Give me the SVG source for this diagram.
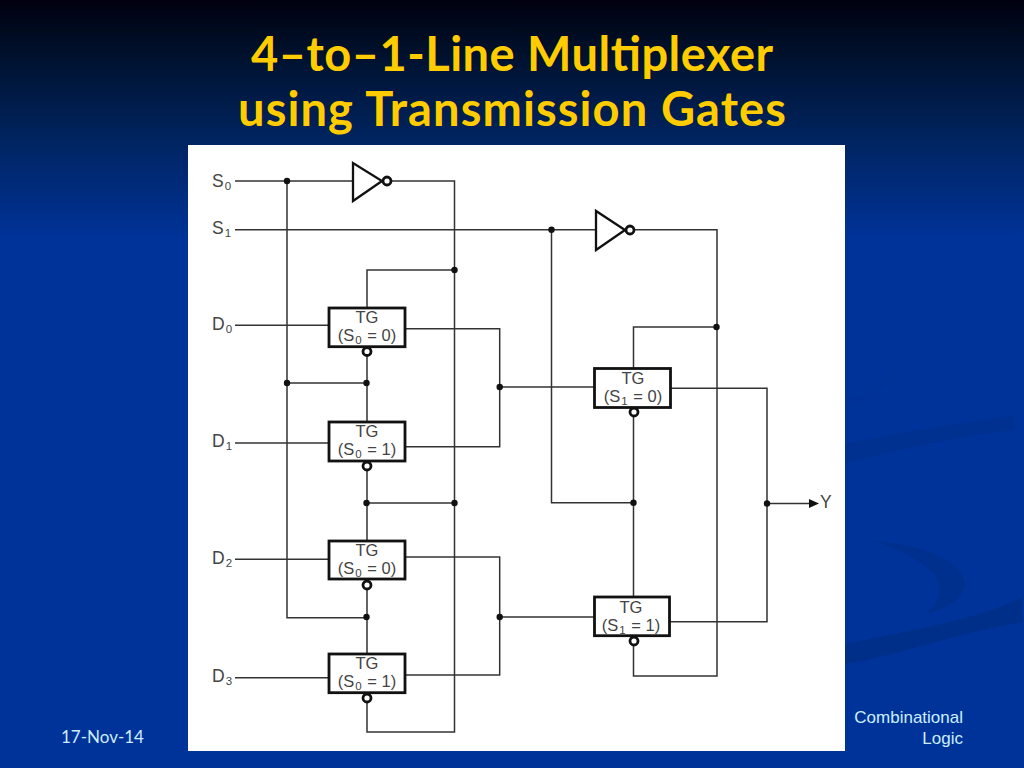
<svg xmlns="http://www.w3.org/2000/svg" width="1024" height="768" viewBox="0 0 1024 768">
<style>
.wire{fill:none;stroke:#333;stroke-width:1.5}
.box{fill:#fff;stroke:#111;stroke-width:2.8}
.inv{fill:#fff;stroke:#111;stroke-width:2.3;stroke-linejoin:miter}
.bub{fill:#fff;stroke:#111;stroke-width:2.8}
.dot{fill:#111}
text{font-family:"Liberation Sans",Arial,sans-serif}
.lab{font-size:16.5px;fill:#444;text-anchor:middle}
.pin{font-size:17.5px;fill:#444}
.sub{font-size:11.5px}
.title{font-family:"Lato","Open Sans",sans-serif;font-weight:700;font-size:47px;fill:#ffcc00;text-anchor:start}
.foot{font-size:17px;fill:#cdeeff}
.sw{fill:#002f8a}
</style>
<defs>
<linearGradient id="bg" x1="0" y1="0" x2="0" y2="1">
<stop offset="0" stop-color="#00000f"/>
<stop offset="0.06" stop-color="#000f28"/>
<stop offset="0.18" stop-color="#00245f"/>
<stop offset="0.31" stop-color="#003399"/>
<stop offset="1" stop-color="#003399"/>
</linearGradient>
</defs>
<rect width="1024" height="768" fill="url(#bg)"/>
<g id="swoosh">
<path class="sw" d="M845 444C910 430 960 424 1015 415L1015 430C960 435 900 450 845 463Z" opacity=".55"/>
<path class="sw" d="M870 540C925 545 965 562 965 585C965 597 945 610 925 614C942 600 945 585 930 570C915 557 895 547 870 540Z" opacity=".8"/>
<path class="sw" d="M845 644C910 630 980 620 1022 597L1022 622C960 632 900 655 845 664Z"/>
<path class="sw" d="M906 340C906 370 890 392 850 407L845 398C880 392 898 375 906 340Z" opacity=".2"/>
</g>
<rect id="panel" x="188" y="145" width="657" height="606" fill="#fff"/>
<g id="title">
<text class="title" x="251" y="71" textLength="522" lengthAdjust="spacing">4–to–1-Line Multiplexer</text>
<text class="title" x="238" y="126" textLength="548" lengthAdjust="spacing">using Transmission Gates</text>
</g>
<g id="connectors">
<path class="wire" d="M235 181H353M391 181H454.500V732H367V702"/>
<path class="wire" d="M235 229.700H596M634 229.700H717V676H633.500V645"/>
<path class="wire" d="M287 181V617.700H367M287 383H367"/>
<path class="wire" d="M454.500 270H367V308M367 355V422M367 470V541M367 503H454.500M367 589V654"/>
<path class="wire" d="M235 325.300H329M235 443H329M235 559.300H329M235 677.700H329"/>
<path class="wire" d="M405 328.700H499.700V446.700H405M405 557H499.700V675H405M499.700 387H594M499.700 617H594"/>
<path class="wire" d="M551.500 229.700V502.700H633.500M633.500 368V327H717M633.500 416V597"/>
<path class="wire" d="M671 388.300H767V621.700H670M767 503.500H810"/>
<path d="M809 499L819 503.500L809 508Z" fill="#111"/>
<g class="dot">
<circle cx="287" cy="181" r="3.200"/><circle cx="551.500" cy="229.700" r="3.200"/><circle cx="454.500" cy="270" r="3.200"/><circle cx="716.500" cy="327" r="3.200"/>
<circle cx="287" cy="383" r="3.200"/><circle cx="366.500" cy="383" r="3.200"/><circle cx="499.700" cy="387" r="3.200"/>
<circle cx="366.500" cy="503" r="3.200"/><circle cx="454.500" cy="503" r="3.200"/><circle cx="633.500" cy="502.700" r="3.200"/><circle cx="767" cy="503.500" r="3.200"/>
<circle cx="366.500" cy="617" r="3.200"/><circle cx="499.700" cy="617" r="3.200"/>
</g>
</g>
<g id="inv0"><path class="inv" d="M353 163V201L382 181Z"/><circle class="bub" cx="387" cy="181" r="4"/></g>
<g id="inv1"><path class="inv" d="M596 211V250L625 230Z"/><circle class="bub" cx="630" cy="230" r="4"/></g>
<g id="tg0"><circle class="bub" cx="367" cy="351.500" r="4"/><rect class="box" x="329" y="308" width="76" height="38.700"/><text class="lab" x="367" y="323">TG</text><text class="lab" x="367" y="341">(S<tspan class="sub" dy="3" dx="1">0</tspan><tspan dy="-3" dx="1"> = 0)</tspan></text></g>
<g id="tg1"><circle class="bub" cx="367" cy="466" r="4"/><rect class="box" x="329" y="422" width="76" height="39"/><text class="lab" x="367" y="437">TG</text><text class="lab" x="367" y="455">(S<tspan class="sub" dy="3" dx="1">0</tspan><tspan dy="-3" dx="1"> = 1)</tspan></text></g>
<g id="tg2"><circle class="bub" cx="367" cy="585" r="4"/><rect class="box" x="329" y="541" width="76" height="38"/><text class="lab" x="367" y="556">TG</text><text class="lab" x="367" y="574">(S<tspan class="sub" dy="3" dx="1">0</tspan><tspan dy="-3" dx="1"> = 0)</tspan></text></g>
<g id="tg3"><circle class="bub" cx="367" cy="698" r="4"/><rect class="box" x="329" y="654" width="76" height="38.700"/><text class="lab" x="367" y="669">TG</text><text class="lab" x="367" y="687">(S<tspan class="sub" dy="3" dx="1">0</tspan><tspan dy="-3" dx="1"> = 1)</tspan></text></g>
<g id="tg4"><circle class="bub" cx="634" cy="412" r="4"/><rect class="box" x="594.500" y="368.500" width="76" height="39"/><text class="lab" x="633" y="384">TG</text><text class="lab" x="633" y="402">(S<tspan class="sub" dy="3" dx="1">1</tspan><tspan dy="-3" dx="1"> = 0)</tspan></text></g>
<g id="tg5"><circle class="bub" cx="634" cy="641" r="4"/><rect class="box" x="594.500" y="597" width="75" height="38.700"/><text class="lab" x="631" y="612.500">TG</text><text class="lab" x="631" y="630.500">(S<tspan class="sub" dy="3" dx="1">1</tspan><tspan dy="-3" dx="1"> = 1)</tspan></text></g>
<g id="labels">
<text class="pin" x="212" y="187">S<tspan class="sub" dy="3" dx="1">0</tspan></text>
<text class="pin" x="212" y="234">S<tspan class="sub" dy="3" dx="1">1</tspan></text>
<text class="pin" x="212" y="330">D<tspan class="sub" dy="3" dx="1">0</tspan></text>
<text class="pin" x="212" y="447">D<tspan class="sub" dy="3" dx="1">1</tspan></text>
<text class="pin" x="212" y="564">D<tspan class="sub" dy="3" dx="1">2</tspan></text>
<text class="pin" x="212" y="682">D<tspan class="sub" dy="3" dx="1">3</tspan></text>
<text class="pin" x="820" y="508">Y</text>
</g>
<g id="footer">
<text class="foot" x="61" y="743" style="font-family:'Lato','Liberation Sans',sans-serif">17-Nov-14</text>
<text class="foot" x="963" y="723" text-anchor="end">Combinational</text>
<text class="foot" x="963" y="744" text-anchor="end">Logic</text>
</g>
</svg>
